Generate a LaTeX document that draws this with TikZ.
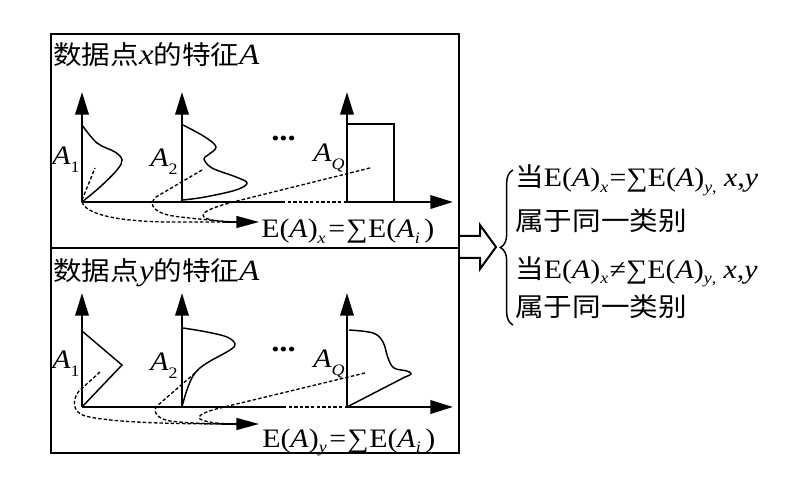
\documentclass[tikz,border=0pt]{standalone}
\usepackage{fontspec}
\setmainfont{Liberation Serif}[FakeStretch=1.12]
\newfontfamily\cjk{Noto Sans CJK SC}[FakeStretch=1.1]
\usetikzlibrary{arrows.meta,decorations.pathreplacing}
\newcommand{\sbl}[1]{\raisebox{-6pt}{\fontsize{12}{12}\selectfont #1}}
\newcommand{\sbs}[1]{\raisebox{-4pt}{\fontsize{12}{12}\selectfont #1}}
\newcommand{\sumlabel}[1]{E(\textit{A})\sbs{\textit{#1}}\kern2pt=\kern0.8pt∑\kern0.5ptE(\textit{A}\sbs{\textit{i}}\kern3.5pt)}
\begin{document}
\begin{tikzpicture}[x=0.75pt,y=-0.75pt,
  frame/.style={line width=1.5pt,line join=miter},
  axis/.style={line width=1.9pt,-{Triangle[length=17pt,width=10pt]}},
  baseline/.style={line width=1.9pt},
  curve/.style={line width=1.1pt},
  dsh/.style={line width=1pt,dash pattern=on 2.6pt off 1.6pt},
  darr/.style={line width=1pt,-{Triangle[length=17pt,width=9pt]}},
  txt/.style={inner sep=0pt,anchor=base west,font=\fontsize{20}{24}\selectfont},
  cjktxt/.style={inner sep=0pt,anchor=base west,font=\fontsize{19.5}{24}\selectfont}
]
\useasboundingbox (0,0) rectangle (800,499);
% frame
\draw[frame] (51,34) rectangle (459,453);
\draw[frame] (51,248) -- (459,248);
% hollow arrow
\draw[frame] (459,236) -- (480,236) -- (480,225) -- (496,247) -- (480,269) -- (480,258) -- (459,258);
% brace
\draw[line width=1.1pt,decorate,decoration={brace,amplitude=9.5pt}] (513,325) -- (513,170);

% ===== panel 1 =====
\node[cjktxt] (title1) at (53,65) {{\cjk 数据点}{\fontsize{22}{24}\selectfont\textit{x}}{\cjk 的特征}{\fontsize{22}{24}\selectfont\textit{A}}};
\coordinate (o1) at (82,202);
\coordinate (o2) at (182,202);
\coordinate (oq) at (347,202);
\coordinate (t1) at (82,92);
\coordinate (t2) at (182,92);
\coordinate (tq) at (347,92);
\coordinate (m1) at (282,202);
\coordinate (xe1) at (453,202);
\draw[axis] (o1) -- (t1);
\draw[axis] (o2) -- (t2);
\draw[axis] (oq) -- (tq);
\draw[baseline] (o1) -- (m1);
\draw[dsh] (m1) -- (oq);
\draw[axis] (oq) -- (xe1);
% distributions
\draw[curve] plot[smooth,tension=0.6] coordinates {(82,125) (97,143) (115,152) (122,160) (117,170) (100,187) (82,202)};
\draw[curve] plot[smooth,tension=0.6] coordinates {(183,125) (205,137) (216,147) (208,155) (204,159) (212,168) (236,177) (247,183) (236,190) (205,197) (183,200)};
\draw[curve] (347,124) -- (394,124) -- (394,202);
% dashed
\coordinate (a1s) at (237,222);
\coordinate (a1b) at (222,222);
\coordinate (a1e) at (259,222);
\draw[dsh] (82,200) -- (95,168);
\draw[dsh] (o1) .. controls (86,214) and (115,221) .. (165,222) -- (a1s);
\draw[dsh] (202,170) -- (156,197) .. controls (148,204) and (152,214) .. (180,217) .. controls (200,219) and (215,221) .. (a1s);
\draw[dsh] (370,168) -- (233,202) .. controls (210,208) and (200,213) .. (204,217) .. controls (207,220) and (220,222) .. (a1s);
\draw[darr] (a1b) -- (a1e);
% labels
\node[txt] (lA1) at (52,165) {\textit{A}\sbl{1}};
\node[txt] (lA2) at (150,167) {\textit{A}\sbl{2}};
\node[txt] (lAQ) at (313,162) {\textit{A}\sbl{\textit{Q}}};
\node[txt,font=\fontsize{22}{24}\selectfont\bfseries] (dots1) at (271,141) {...};
\node[txt] (sum1) at (261,238) {\sumlabel{x}};

% ===== panel 2 =====
\node[cjktxt] (title2) at (53,280) {{\cjk 数据点}{\fontsize{22}{24}\selectfont\textit{y}}{\cjk 的特征}{\fontsize{22}{24}\selectfont\textit{A}}};
\coordinate (p1) at (82,407);
\coordinate (p2) at (182,407);
\coordinate (pq) at (347,407);
\coordinate (s1) at (82,293);
\coordinate (s2) at (182,293);
\coordinate (sq) at (347,293);
\coordinate (m2) at (283,407);
\coordinate (xe2) at (453,407);
\draw[axis] (p1) -- (s1);
\draw[axis] (p2) -- (s2);
\draw[axis] (pq) -- (sq);
\draw[baseline] (p1) -- (m2);
\draw[dsh] (m2) -- (pq);
\draw[axis] (pq) -- (xe2);
% distributions
\draw[curve] (82,331) -- (122,365) -- (p1);
\draw[curve] plot[smooth,tension=0.6] coordinates {(183,328) (207,332) (227,337) (235,344) (230,350) (207,363) (195,373) (188,387) (183,403) (182,407)};
\draw[curve] plot[smooth,tension=0.6] coordinates {(349,330) (373,333) (383,342) (388,358) (394,368) (407,371) (411,374) (405,377)} -- (pq);
% dashed
\coordinate (a2s) at (237,424);
\coordinate (a2b) at (222,424);
\coordinate (a2e) at (259,424);
\draw[dsh] (100,372) -- (79,391) .. controls (72,400) and (72,412) .. (85,416) .. controls (110,422) and (160,424) .. (a2s);
\draw[dsh] (195,373) -- (157,406) .. controls (152,412) and (158,419) .. (170,421) .. controls (185,423) and (210,424) .. (a2s);
\draw[dsh] (365,373) -- (220,408) .. controls (200,413) and (193,418) .. (205,421) .. controls (212,423) and (225,424) .. (a2s);
\draw[darr] (a2b) -- (a2e);
% labels
\node[txt] (lB1) at (52,368) {\textit{A}\sbl{1}};
\node[txt] (lB2) at (150,370) {\textit{A}\sbl{2}};
\node[txt] (lBQ) at (313,367) {\textit{A}\sbl{\textit{Q}}};
\node[txt,font=\fontsize{22}{24}\selectfont\bfseries] (dots2) at (271,351) {...};
\node[txt] (sum2) at (262,447) {\sumlabel{y}};

% ===== right =====
\node[txt] (r1) at (515,187) {{\cjk\fontsize{19.5}{24}\selectfont 当}E(\textit{A})\sbs{\textit{x}}\kern1pt=∑E(\textit{A})\sbs{\textit{y},} \textit{x},\textit{y}};
\node[cjktxt] (r2) at (515,231) {\cjk 属于同一类别};
\node[txt] (r3) at (515,278) {{\cjk\fontsize{19.5}{24}\selectfont 当}E(\textit{A})\sbs{\textit{x}}\kern1pt≠∑E(\textit{A})\sbs{\textit{y},} \textit{x},\textit{y}};
\node[cjktxt] (r4) at (515,316) {\cjk 属于同一类别};
\end{tikzpicture}
\end{document}
